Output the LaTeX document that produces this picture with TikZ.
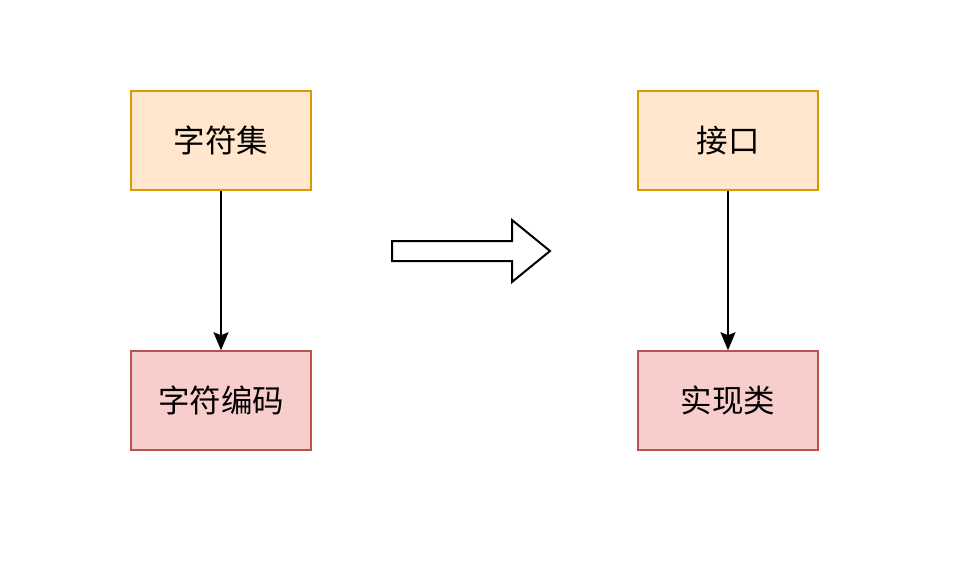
\documentclass[tikz,border=0pt]{standalone}
\usepackage{fontspec}
\setmainfont{Noto Sans CJK SC}
\usetikzlibrary{arrows.meta}
\definecolor{orangefill}{HTML}{FFE6CC}
\definecolor{orangeline}{HTML}{D79B00}
\definecolor{redfill}{HTML}{F8CECC}
\definecolor{redline}{HTML}{B85450}
\tikzset{
    topbox/.style={draw=orangeline, fill=orangefill, line width=1.5pt, minimum width=180pt, minimum height=99pt, inner sep=0pt, font=\fontsize{31.5}{36}\selectfont},
    botbox/.style={draw=redline, fill=redfill, line width=1.5pt, minimum width=180pt, minimum height=99pt, inner sep=0pt, font=\fontsize{31.5}{36}\selectfont},
}
\begin{document}
\begin{tikzpicture}[>={Stealth[length=18pt,width=15pt,inset=3pt]}, x=1pt, y=-1pt]
                \useasboundingbox (0,0) rectangle (960,584);
                \node[topbox] (charset) at (221,140.5) {字符集};
                \node[botbox] (encoding) at (221,400.5) {字符编码};
                \node[topbox] (iface) at (728,140.5) {接口};
                \node[botbox] (impl) at (728,400.5) {实现类};
                \draw[->, line width=2pt] (charset) -- (encoding);
                \draw[->, line width=2pt] (iface) -- (impl);
                % big arrow
                \draw[line width=2pt, fill=white] (392,241) -- (512,241) -- (512,220) -- (550,251)
                    -- (512,282) -- (512,261) -- (392,261) -- cycle;
            \end{tikzpicture}
\end{document}
